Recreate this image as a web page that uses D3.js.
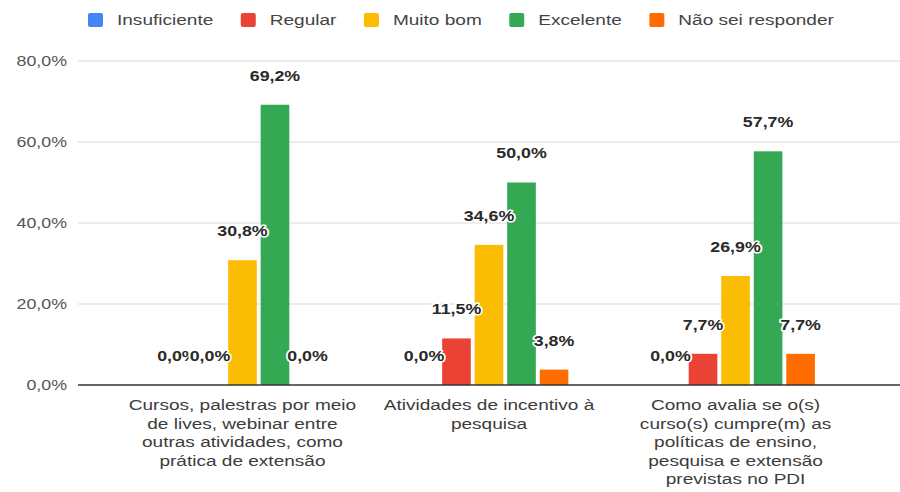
<!DOCTYPE html>
<html>
<head>
<meta charset="utf-8">
<script src="https://cdn.jsdelivr.net/npm/d3@7"></script>
<style>
  html, body { margin: 0; padding: 0; background: #fff; }
  svg { display: block; }
</style>
</head>
<body>
<svg id="chart" width="900" height="492"></svg>
<script>
const categories = [
  "Cursos, palestras por meio de lives, webinar entre outras atividades, como prática de extensão",
  "Atividades de incentivo à pesquisa",
  "Como avalia se o(s) curso(s) cumpre(m) as políticas de ensino, pesquisa e extensão previstas no PDI"
];
const categoryLines = [
  ["Cursos, palestras por meio", "de lives, webinar entre", "outras atividades, como", "prática de extensão"],
  ["Atividades de incentivo à", "pesquisa"],
  ["Como avalia se o(s)", "curso(s) cumpre(m) as", "políticas de ensino,", "pesquisa e extensão", "previstas no PDI"]
];
const seriesNames = ["Insuficiente", "Regular", "Muito bom", "Excelente", "Não sei responder"];
const seriesColors = ["#4285F4", "#EA4335", "#FBBC04", "#34A853", "#FF6D01"];
const insuficiente = [0.0, 0.0, 0.0];
const regular = [0.0, 11.5, 7.7];
const muitoBom = [30.8, 34.6, 26.9];
const excelente = [69.2, 50.0, 57.7];
const naoSei = [0.0, 3.8, 7.7];
const yTicks = [0, 20, 40, 60, 80];

const seriesValues = [insuficiente, regular, muitoBom, excelente, naoSei];
const svg = d3.select("#chart");
const fmt = v => d3.format(".1f")(v).replace(".", ",") + "%";
const SX = 1.27; // horizontal text stretch seen in the reference
const FONT = "Liberation Sans, Arial, sans-serif";
const place = (x, yy) => `translate(${x},${yy}) scale(${SX},1)`;

const mLeft = 78, mRight = 900, mTop = 61, mBottom = 385;
const x0 = d3.scaleBand().domain(categories).range([mLeft, mRight]).paddingInner(0).paddingOuter(0.167);
const x1 = d3.scaleBand().domain(seriesNames).range([0, x0.bandwidth()]).paddingInner(0.12).paddingOuter(1.35);
const y = d3.scaleLinear().domain([0, 80]).range([mBottom, mTop]);

// gridlines
svg.append("g").selectAll("line").data(yTicks.filter(t => t > 0)).join("line")
  .attr("x1", mLeft).attr("x2", mRight)
  .attr("y1", d => y(d)).attr("y2", d => y(d))
  .attr("stroke", "#d9d9d9").attr("stroke-width", 1);

// y tick labels
svg.append("g").selectAll("text").data(yTicks).join("text")
  .attr("transform", d => place(67, y(d)))
  .attr("dy", "0.35em")
  .attr("text-anchor", "end")
  .attr("font-family", FONT)
  .attr("font-size", 14).attr("fill", "#555")
  .text(d => fmt(d));

// bars
const data = [];
categories.forEach((c, ci) => seriesNames.forEach((s, si) => {
  data.push({ c, s, si, v: seriesValues[si][ci] });
}));

svg.append("g").selectAll("rect").data(data.filter(d => d.v > 0)).join("rect")
  .attr("x", d => x0(d.c) + x1(d.s))
  .attr("width", x1.bandwidth())
  .attr("y", d => y(d.v))
  .attr("height", d => y(0) - y(d.v))
  .attr("fill", d => seriesColors[d.si]);

// baseline
svg.append("line").attr("x1", mLeft).attr("x2", mRight)
  .attr("y1", y(0)).attr("y2", y(0))
  .attr("stroke", "#333").attr("stroke-width", 1.3);

// data labels
svg.append("g").selectAll("text").data(data).join("text")
  .attr("transform", d => place(x0(d.c) + x1(d.s) + x1.bandwidth() / 2, y(d.v) - 29))
  .attr("dy", "0.35em")
  .attr("text-anchor", "middle")
  .attr("font-family", FONT)
  .attr("font-size", 14).attr("font-weight", "bold")
  .attr("fill", "#2a2a2a")
  .attr("stroke", "#fff").attr("stroke-width", 3).attr("paint-order", "stroke")
  .attr("stroke-linejoin", "round")
  .text(d => fmt(d.v));

// category labels
const catG = svg.append("g");
categories.forEach((c, ci) => {
  const t = catG.append("text")
    .attr("transform", place(x0(c) + x0.bandwidth() / 2, 410))
    .attr("text-anchor", "middle")
    .attr("font-family", FONT)
    .attr("font-size", 15).attr("fill", "#3c3c3c");
  categoryLines[ci].forEach((ln, li) => {
    t.append("tspan").attr("x", 0)
      .attr("dy", li === 0 ? 0 : 18.6).text(ln);
  });
});

// legend
const lg = svg.append("g");
let lx = 88;
const ly = 20;
seriesNames.forEach((s, i) => {
  lg.append("rect").attr("x", lx).attr("y", ly - 7).attr("width", 15).attr("height", 14)
    .attr("rx", 2).attr("fill", seriesColors[i]);
  const t = lg.append("text").attr("transform", place(lx + 29, ly)).attr("dy", "0.35em")
    .attr("font-family", FONT)
    .attr("font-size", 15).attr("fill", "#444").text(s);
  const w = t.node().getComputedTextLength() * SX;
  lx += 29 + w + 27.5;
});
</script>
</body>
</html>
